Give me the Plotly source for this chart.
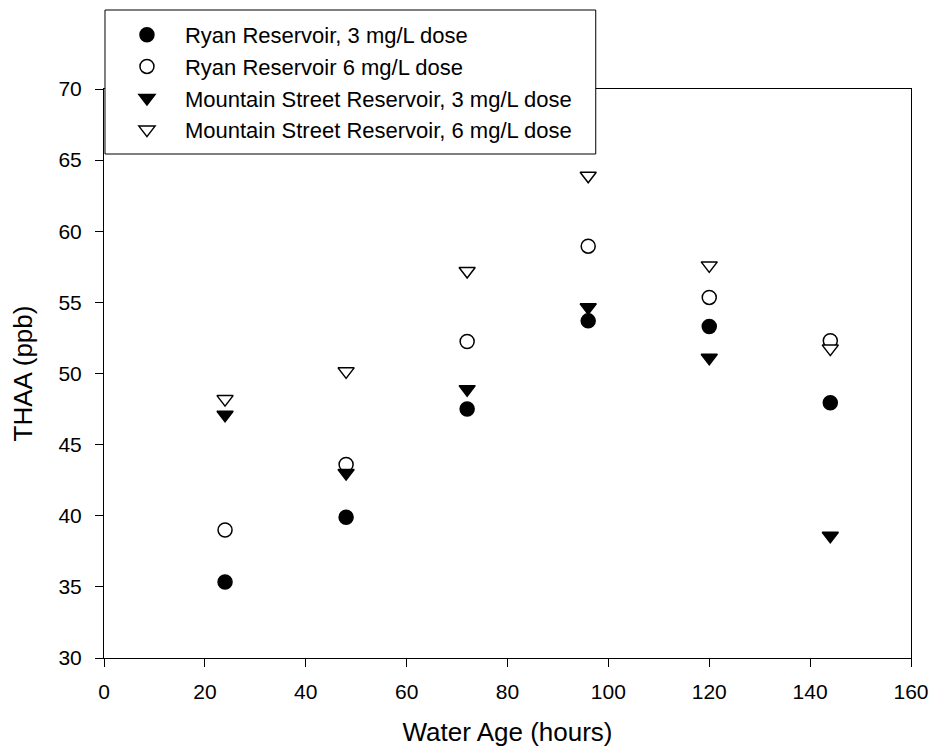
import plotly.graph_objects as go

water_age = [24, 48, 72, 96, 120, 144]
ryan_3 = [35.35, 39.9, 47.5, 53.7, 53.3, 47.95]
ryan_6 = [39.0, 43.6, 52.25, 58.95, 55.35, 52.3]
mtn_3 = [47.1, 43.0, 48.9, 54.65, 51.1, 38.6]
mtn_6 = [48.2, 50.15, 57.2, 63.9, 57.6, 51.75]

names = [
    "Ryan Reservoir, 3 mg/L dose",
    "Ryan Reservoir 6 mg/L dose",
    "Mountain Street Reservoir, 3 mg/L dose",
    "Mountain Street Reservoir, 6 mg/L dose",
]
series = [ryan_3, ryan_6, mtn_3, mtn_6]
symbols = ["circle", "circle", "triangle-down", "triangle-down"]
fills = ["black", "white", "black", "white"]

FONT = "Liberation Sans, Arial, sans-serif"

W, H = 941, 756
L, R, T, B = 104, 23, 89, 98
PW, PH = W - L - R, H - T - B


def px_x(p):
    return (p - L) / PW


def px_y(p):
    return (H - B - p) / PH


fig = go.Figure()
for nm, ys, sym, fc in zip(names, series, symbols, fills):
    fig.add_trace(go.Scatter(
        x=water_age, y=ys, mode="markers", name=nm,
        marker=dict(symbol=sym, size=14, color=fc,
                    line=dict(color="black", width=1.5)),
    ))

axis_common = dict(
    showgrid=False, zeroline=False, showline=True, linecolor="black",
    linewidth=1, mirror=True, ticks="outside", ticklen=8, tickwidth=1,
    tickcolor="black", tickfont=dict(family=FONT, size=21, color="black"),
)

# legend frame (white box covering the top frame line)
fig.add_shape(type="rect", xref="paper", yref="paper",
              x0=px_x(105), x1=px_x(600), y0=px_y(154), y1=px_y(10),
              line=dict(color="black", width=1), fillcolor="white", layer="above")

fig.update_layout(
    width=W, height=H,
    margin=dict(l=L, r=R, t=T, b=B),
    paper_bgcolor="white", plot_bgcolor="white",
    font=dict(family=FONT, color="black"),
    xaxis=dict(range=[0, 160], tick0=0, dtick=20, ticklabelstandoff=7,
               title=dict(text="Water Age (hours)", font=dict(family=FONT, size=26), standoff=20),
               **axis_common),
    yaxis=dict(range=[30, 70], tick0=30, dtick=5, ticklabelstandoff=9,
               title=dict(text="THAA (ppb)", font=dict(family=FONT, size=26), standoff=18),
               **axis_common),
    legend=dict(x=px_x(109), y=px_y(14), xanchor="left", yanchor="top",
                bgcolor="rgba(0,0,0,0)", borderwidth=0,
                font=dict(family=FONT, size=22, color="black"),
                tracegroupgap=0, itemwidth=66),
    showlegend=True,
)

fig.write_html("out.html")
